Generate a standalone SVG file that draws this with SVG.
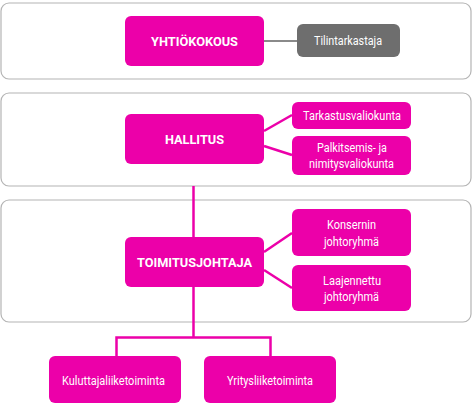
<svg xmlns="http://www.w3.org/2000/svg" width="473" height="408" viewBox="0 0 473 408">
<style>
.panel{fill:#fff;stroke:#b4b4b4;stroke-width:1.2}
.box{fill:#ec00a9}
.grey{fill:#6e6e6e}
.t{font-family:Roboto,"Liberation Sans",sans-serif;fill:#fff;text-anchor:middle;font-size:12.5px}
.b{font-weight:bold;font-size:12.5px}
.c{fill:none;stroke:#ec00a9;stroke-width:2.5}
</style>
<rect width="473" height="408" fill="#fff"/>
<g id="panels">
<rect class="panel" x="1" y="3" width="470" height="76" rx="8"/>
<rect class="panel" x="1" y="93" width="470" height="93" rx="8"/>
<rect class="panel" x="1" y="200" width="470" height="122" rx="8"/>
</g>
<g id="connectors">
<line x1="264" y1="41" x2="297" y2="41" stroke="#8a8a8a" stroke-width="2"/>
<line class="c" x1="264" y1="131" x2="292" y2="115"/>
<line class="c" x1="264" y1="146" x2="292" y2="155"/>
<line class="c" x1="193.5" y1="186" x2="193.5" y2="237"/>
<line class="c" x1="264" y1="252" x2="292" y2="233"/>
<line class="c" x1="264" y1="270" x2="292" y2="288"/>
<polyline class="c" points="193.5,287 193.5,337.5"/>
<polyline class="c" points="116.5,356 116.5,337.5 270.5,337.5 270.5,356"/>
</g>
<g id="yhtiokokous">
<rect class="box" x="125" y="16" width="139" height="50" rx="6"/>
<text class="t b" x="194.5" y="45.5" textLength="87" lengthAdjust="spacingAndGlyphs">YHTIÖKOKOUS</text>
</g>
<g id="tilintarkastaja">
<rect class="grey" x="297" y="24" width="103" height="33" rx="6"/>
<text class="t" x="348" y="45" textLength="68" lengthAdjust="spacingAndGlyphs">Tilintarkastaja</text>
</g>
<g id="hallitus">
<rect class="box" x="125" y="114" width="139" height="50" rx="6"/>
<text class="t b" x="194.5" y="143.5" textLength="59" lengthAdjust="spacingAndGlyphs">HALLITUS</text>
</g>
<g id="tarkastusvaliokunta">
<rect class="box" x="292" y="102" width="119" height="27" rx="6"/>
<text class="t" x="352" y="120" textLength="98" lengthAdjust="spacingAndGlyphs">Tarkastusvaliokunta</text>
</g>
<g id="palkitsemis">
<rect class="box" x="292" y="136" width="119" height="39" rx="6"/>
<text class="t" x="352" y="152" textLength="70" lengthAdjust="spacingAndGlyphs">Palkitsemis- ja</text>
<text class="t" x="351.5" y="168" textLength="85" lengthAdjust="spacingAndGlyphs">nimitysvaliokunta</text>
</g>
<g id="toimitusjohtaja">
<rect class="box" x="125" y="237" width="139" height="50" rx="6"/>
<text class="t b" x="194.5" y="266.5" textLength="115" lengthAdjust="spacingAndGlyphs">TOIMITUSJOHTAJA</text>
</g>
<g id="konsernin">
<rect class="box" x="292" y="209" width="119" height="47" rx="6"/>
<text class="t" x="351.5" y="229" textLength="49" lengthAdjust="spacingAndGlyphs">Konsernin</text>
<text class="t" x="351.5" y="245.5" textLength="55" lengthAdjust="spacingAndGlyphs">johtoryhmä</text>
</g>
<g id="laajennettu">
<rect class="box" x="292" y="265" width="119" height="46" rx="6"/>
<text class="t" x="352" y="284.5" textLength="58" lengthAdjust="spacingAndGlyphs">Laajennettu</text>
<text class="t" x="351.5" y="301" textLength="55" lengthAdjust="spacingAndGlyphs">johtoryhmä</text>
</g>
<g id="kuluttaja">
<rect class="box" x="49" y="356" width="132" height="47" rx="6"/>
<text class="t" x="113.5" y="384.5" textLength="103" lengthAdjust="spacingAndGlyphs">Kuluttajaliiketoiminta</text>
</g>
<g id="yritys">
<rect class="box" x="204" y="356" width="132" height="47" rx="6"/>
<text class="t" x="270" y="384.5" textLength="86" lengthAdjust="spacingAndGlyphs">Yritysliiketoiminta</text>
</g>
</svg>
